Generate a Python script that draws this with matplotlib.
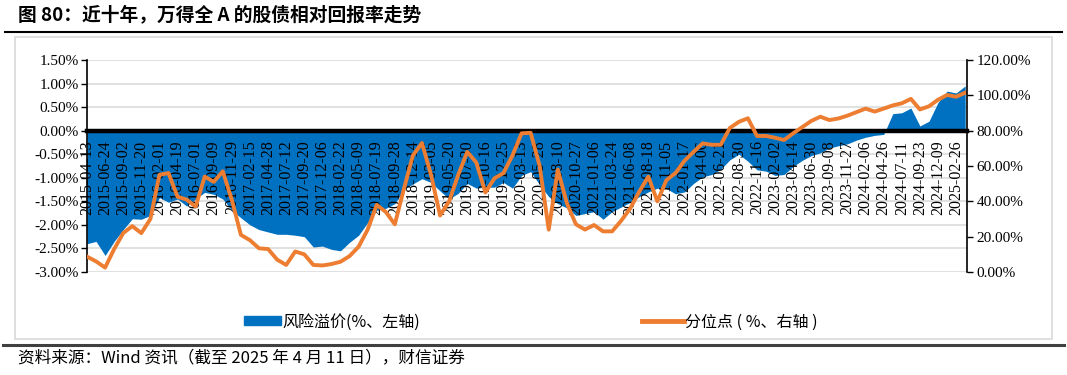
import numpy as np
import matplotlib
matplotlib.use("Agg")
import matplotlib.pyplot as plt
from matplotlib.patches import Rectangle, Patch
from matplotlib.lines import Line2D

plt.rcParams['font.family'] = ['Noto Sans CJK SC', 'DejaVu Sans']
plt.rcParams['axes.unicode_minus'] = False

# 每 25 个交易日取一个值（2015-04-13 起）
STEP = 25
N_DAYS = 2430

# 风险溢价（%，左轴）
premium = [-2.4, -2.35, -2.65, -2.35, -2.1, -1.87, -1.88, -1.8, -1.42, -1.52,
           -1.45, -1.6, -1.45, -1.31, -1.35, -1.45, -1.69, -1.85, -2.0, -2.1,
           -2.15, -2.2, -2.2, -2.22, -2.25, -2.47, -2.45, -2.52, -2.55, -2.37,
           -2.22, -1.95, -1.69, -1.65, -1.55, -1.25, -1.13, -1.02, -1.1, -1.28,
           -1.45, -1.33, -1.12, -1.22, -1.2, -1.2, -1.1, -1.22, -0.95, -0.87,
           -1.15, -1.4, -1.55, -1.64, -1.8, -1.76, -1.72, -1.88, -1.72, -1.62,
           -1.52, -1.4, -1.3, -1.22, -1.23, -1.34, -1.3, -1.12, -0.98, -0.93,
           -0.82, -0.62, -0.5, -0.65, -0.83, -0.86, -0.95, -0.93, -0.76, -0.63,
           -0.53, -0.47, -0.37, -0.32, -0.28, -0.2, -0.14, -0.1, -0.08, 0.36,
           0.38, 0.48, 0.1, 0.2, 0.6, 0.84, 0.8, 0.95]

# 分位点（%，右轴）
pctile = [8.7, 6.0, 2.5, 13, 22, 26, 22, 30, 55, 56,
          42.6, 41, 37, 54, 51, 57, 40.8, 21, 18, 13.4,
          13, 7, 4, 11.6, 10, 4, 3.7, 4.5, 5.8, 9,
          14.3, 24, 38, 34, 27, 47, 66, 73, 55, 32,
          40, 55, 68, 62, 45, 53, 56, 66, 78.5, 78.8,
          60, 24, 58, 39, 27, 24, 26.6, 23, 23, 29,
          36, 45.5, 54, 40, 52, 56, 63, 68, 72.8, 72,
          72, 81.5, 85, 87, 77, 77, 76, 74.7, 78.5, 82,
          85.5, 87.9, 86, 86.9, 88.5, 90.5, 92.5, 90.8, 92.5, 94.3,
          95.5, 98, 92, 93.8, 97.5, 100.2, 99.2, 101.5]

date_labels = ['2015-04-13', '2015-06-24', '2015-09-02', '2015-11-20', '2016-02-01',
               '2016-04-19', '2016-07-01', '2016-09-09', '2016-11-29', '2017-02-15',
               '2017-04-28', '2017-07-12', '2017-09-20', '2017-12-06', '2018-02-22',
               '2018-05-09', '2018-07-19', '2018-09-28', '2018-12-14', '2019-03-05',
               '2019-05-20', '2019-07-30', '2019-10-16', '2019-12-25', '2020-03-13',
               '2020-05-28', '2020-08-10', '2020-10-27', '2021-01-06', '2021-03-24',
               '2021-06-08', '2021-08-18', '2021-11-05', '2022-01-17', '2022-04-06',
               '2022-06-21', '2022-08-30', '2022-11-16', '2023-02-02', '2023-04-14',
               '2023-06-30', '2023-09-08', '2023-11-27', '2024-02-06', '2024-04-26',
               '2024-07-11', '2024-09-23', '2024-12-09', '2025-02-26']
LABEL_EVERY = 50

left_ticks = [-3.0, -2.5, -2.0, -1.5, -1.0, -0.5, 0.0, 0.5, 1.0, 1.5]
right_ticks = [0, 20, 40, 60, 80, 100, 120]

BLUE = '#0070C0'
ORANGE = '#ED7D31'
W, H = 1067, 375

fig = plt.figure(figsize=(W / 100, H / 100), dpi=100)

# 外框、标题、分隔线
fig.patches.append(Rectangle((15 / W, 1 - 339 / H), 1037 / W, 302 / H, transform=fig.transFigure,
                             fill=False, edgecolor='#d9d9d9', lw=1.2))
fig.text(18 / W, 1 - 15 / H, '图 80：近十年，万得全 A 的股债相对回报率走势', fontsize=13.5,
         fontweight='bold', va='center', ha='left')
fig.add_artist(Line2D([5 / W, 1062 / W], [1 - 32 / H, 1 - 32 / H], color='black', lw=1.5))
fig.add_artist(Line2D([3 / W, 1064 / W], [1 - 345 / H, 1 - 345 / H], color='#404040', lw=2.2))
fig.text(18 / W, 1 - 358 / H, '资料来源：Wind 资讯（截至 2025 年 4 月 11 日），财信证券', fontsize=12,
         va='center', ha='left')

ax = fig.add_axes([87 / W, 1 - 272 / H, 880 / W, 212 / H])
x = np.arange(len(premium)) * STEP
ax.fill_between(x, premium, 0, color=BLUE, linewidth=0, zorder=2)
ax.set_xlim(0, N_DAYS)
ax.set_ylim(-3.0, 1.5)
ax.set_yticks(left_ticks)
ax.set_yticklabels([f'{v:.2f}%' for v in left_ticks], fontfamily='Liberation Serif', fontsize=11)
ax.yaxis.grid(True, color='#d9d9d9', lw=1.1, zorder=0)
ax.set_axisbelow(True)
ax.xaxis.set_zorder(4)
ax.tick_params(axis='y', length=4, width=1, color='black', pad=2)

ax.spines['top'].set_visible(False)
ax.spines['right'].set_visible(False)
ax.spines['bottom'].set_position(('data', 0))
ax.spines['bottom'].set_linewidth(3.2)
ax.spines['bottom'].set_zorder(3)
ax.spines['left'].set_linewidth(1.2)

ax.set_xticks(np.arange(len(date_labels)) * LABEL_EVERY)
ax.set_xticklabels(date_labels, rotation=90, fontfamily='Liberation Serif', fontsize=11.5)
ax.tick_params(axis='x', length=0, pad=7)

ax2 = ax.twinx()
ax2.plot(x, pctile, color=ORANGE, lw=2.8, solid_joinstyle='round')
ax2.set_ylim(0, 120)
ax2.set_yticks(right_ticks)
ax2.set_yticklabels([f'{v:.2f}%' for v in right_ticks], fontfamily='Liberation Serif', fontsize=11)
ax2.tick_params(axis='y', length=4, width=1, color='black', pad=3)
for s in ['top', 'left', 'bottom']:
    ax2.spines[s].set_visible(False)
ax2.spines['right'].set_linewidth(1.2)

# 图例
fig.legend(handles=[Patch(color=BLUE, label='风险溢价(%、左轴)')], loc='center left',
           bbox_to_anchor=(238 / W, 1 - 322 / H), frameon=False, fontsize=11.5,
           handlelength=2.3, handleheight=0.5, handletextpad=0.05, borderaxespad=0)
fig.legend(handles=[Line2D([], [], color=ORANGE, lw=3.5, label='分位点 ( %、右轴 )')],
           loc='center left', bbox_to_anchor=(636 / W, 1 - 322 / H), frameon=False,
           fontsize=11.5, handlelength=2.6, handletextpad=0.05, borderaxespad=0)

fig.savefig('out.png', dpi=100)
